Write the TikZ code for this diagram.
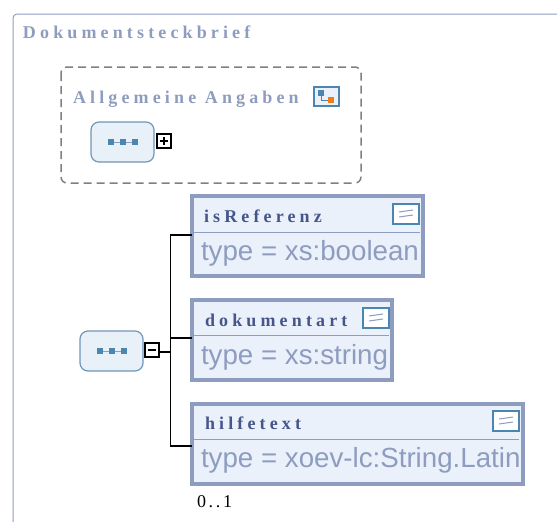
\documentclass[tikz,border=0pt]{standalone}
\usepackage{fontspec}
\setmainfont{Liberation Serif}
\newfontfamily\titlefont[LetterSpace=23]{Liberation Serif Bold}
\newfontfamily\countfont[LetterSpace=15]{Liberation Serif}
\newfontfamily\typefont{Liberation Sans}
\definecolor{framecol}{HTML}{8E9DBF}
\definecolor{fieldfill}{HTML}{EAF1FB}
\definecolor{namecol}{HTML}{46568A}
\definecolor{seqfill}{HTML}{E8F0F8}
\definecolor{seqline}{HTML}{7096B8}
\definecolor{iconblue}{HTML}{4A86B0}
\tikzstyle{every node}=[inner sep=0pt, outer sep=0pt]
\tikzstyle{title}=[anchor=base west, font=\titlefont\fontsize{18}{18}\selectfont, text=framecol]
\tikzstyle{fieldname}=[anchor=base west, font=\titlefont\fontsize{18}{18}\selectfont, text=namecol]
\tikzstyle{fieldtype}=[anchor=base west, font=\typefont\fontsize{27.7}{28}\selectfont, text=framecol]
\tikzstyle{field}=[anchor=north west, draw=framecol, fill=fieldfill, line width=4pt, minimum height=80pt]
\tikzstyle{seqbox}=[anchor=north west, draw=seqline, fill=seqfill, line width=1.2pt, rounded corners=8pt, minimum width=63pt, minimum height=40pt]
\tikzstyle{toggle}=[anchor=north west, draw=black, fill=white, line width=1.5pt, minimum width=14pt, minimum height=14pt]
\tikzstyle{branch}=[black, line width=1.5pt]
\tikzset{
  docicon/.pic={
    \draw[iconblue, fill=white, line width=1.5pt] (0,0) rectangle (26,20);
    \draw[framecol, line width=1pt] (6,8) -- (20,6);
    \draw[framecol, line width=1pt] (6,13) -- (20,11);
  },
  seqicon/.pic={
    \draw[framecol, line width=1pt] (-12,0) -- (12,0);
    \fill[iconblue] (-15,-3) rectangle (-9,3);
    \fill[iconblue] (-3,-3) rectangle (3,3);
    \fill[iconblue] (9,-3) rectangle (15,3);
  }
}
\begin{document}
\begin{tikzpicture}[x=1pt, y=-1pt]
\useasboundingbox (0,0) rectangle (557,522);
% Outer frame
    \draw[framecol, line width=1pt, rounded corners=4pt] (13,522) -- (13,14) -- (557,14);
    \node[title] (dokumentsteckbrief) at (23,38) {Dokumentsteckbrief};
% Group with its sequence
    \draw[gray, line width=1.5pt, dashed, dash pattern=on 8pt off 5pt, rounded corners=6pt] (61,67) rectangle (361,183);
    \node[title] (allgemeine) at (73,103) {Allgemeine Angaben};
    \draw[iconblue, fill=fieldfill, line width=1.5pt] (314,87) rectangle (339,106);
    \draw[iconblue, line width=1pt] (321,93) -- (321,100) -- (331,100);
    \fill[iconblue] (318,90) rectangle (324,96);
    \fill[orange!70!brown] (328,97) rectangle (334,103);
    \node[seqbox] (seqone) at (91,122) {};
    \pic at (seqone.center) {seqicon};
    \node[toggle] (plusbox) at (157,134) {};
    \draw[black, line width=1.5pt] (160,141) -- (168,141);
    \draw[black, line width=1.5pt] (164,137) -- (164,145);
% Fields
    \node[field, minimum width=231.5pt] (isreferenz) at (191.5,196) {};
    \node[field, minimum width=200.5pt] (dokumentart) at (191.5,300) {};
    \node[field, minimum width=331.5pt] (hilfetext) at (191.5,404) {};
    \draw[framecol, line width=1pt] (192,232) -- (420,232);
    \draw[framecol, line width=1pt] (192,335) -- (389,335);
    \draw[framecol, line width=1pt] (192,439) -- (519,439);
    \node[fieldname] (isreferenzname) at (204,222) {isReferenz};
    \node[fieldname] (dokumentartname) at (205,326) {dokumentart};
    \node[fieldname] (hilfetextname) at (205,429) {hilfetext};
    \node[fieldtype] (isreferenztype) at (201,260) {type = xs:boolean};
    \node[fieldtype] (dokumentarttype) at (201,364) {type = xs:string};
    \begin{scope}
        \clip (192,440) rectangle (521,484);
        \node[fieldtype] (hilfetexttype) at (201,467) {type = xoev-lc:String.Latin};
    \end{scope}
    \pic at (393,204) {docicon};
    \pic at (363,308) {docicon};
    \pic at (493,411) {docicon};
    \node[anchor=base west, font=\countfont\fontsize{18}{18}\selectfont] (anzahl) at (197,507) {0..1};
% Sequence and its branches
    \node[seqbox] (seqtwo) at (80,331) {};
    \pic at (seqtwo.center) {seqicon};
    \node[toggle] (minusbox) at (145,343) {};
    \draw[black, line width=1.5pt] (148,350) -- (156,350);
    \coordinate (fork) at (170.5,352);
    \draw[branch] (minusbox.east |- fork) -- (fork);
    \draw[branch] ([yshift=1pt]isreferenz.west) -| (fork);
    \draw[branch] ([yshift=2pt]dokumentart.west) -| (fork);
    \draw[branch] ([yshift=-2pt]hilfetext.west) -| (fork);
\end{tikzpicture}
\end{document}
